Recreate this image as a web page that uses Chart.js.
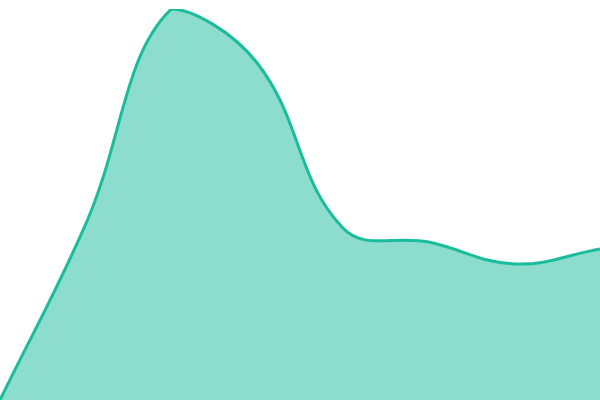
<!DOCTYPE html>
<html>
<head>
<meta charset="utf-8">
<script src="https://cdn.jsdelivr.net/npm/chart.js@4"></script>
<style>
html,body{margin:0;padding:0;background:#fff;}
#wrap{width:600px;height:400px;}
</style>
</head>
<body>
<div id="wrap"><canvas id="c"></canvas></div>
<script>
const labels = ["1","2","3","4","5","6","7","8"];
const values = [0, 45, 100, 86.2, 44, 40.4, 34.8, 38.6];

new Chart(document.getElementById('c'), {
  type: 'line',
  data: {
    labels: labels,
    datasets: [{
      data: values,
      borderColor: '#1abc9c',
      backgroundColor: 'rgba(26,188,156,0.5)',
      borderWidth: 3,
      fill: 'origin',
      tension: 0.4,
      pointRadius: 0
    }]
  },
  options: {
    responsive: true,
    maintainAspectRatio: false,
    animation: false,
    layout: { padding: { top: 9, left: 0, right: 0, bottom: 0 } },
    plugins: { legend: { display: false }, tooltip: { enabled: false } },
    scales: {
      x: { display: false },
      y: { display: false, min: 0, max: 100 }
    }
  }
});
</script>
</body>
</html>
